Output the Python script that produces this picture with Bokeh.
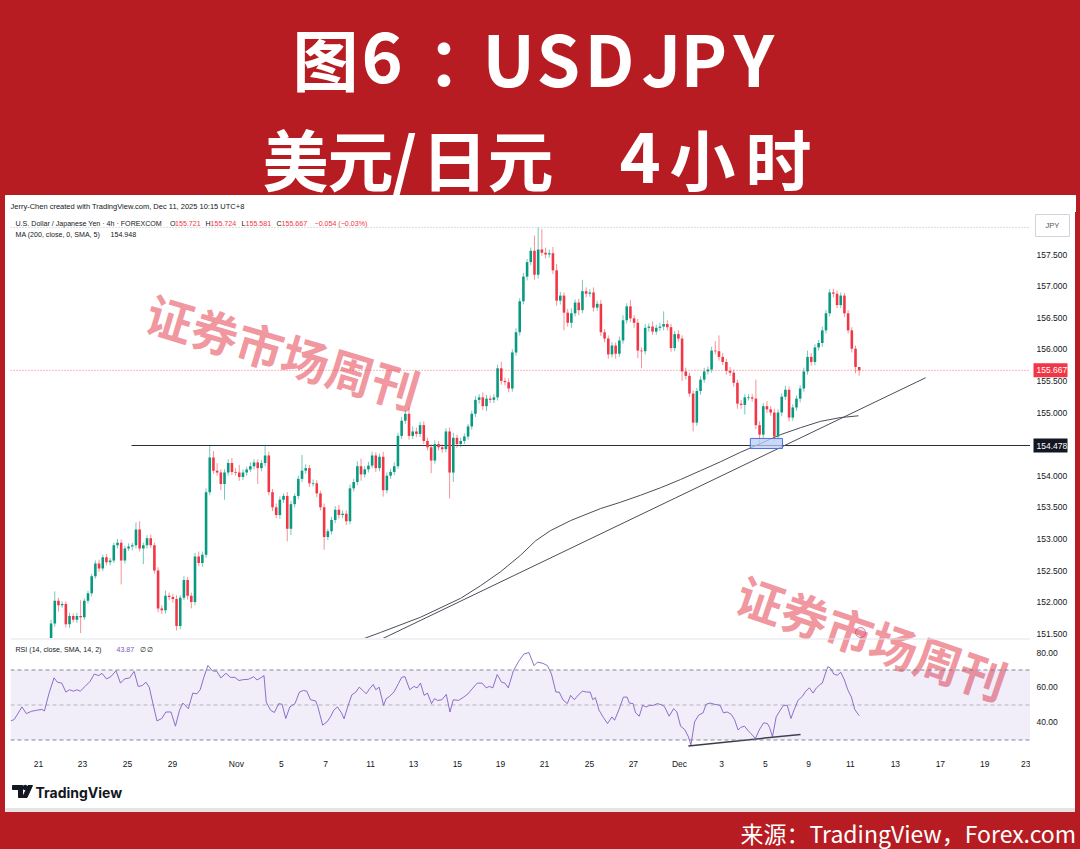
import numpy as np
from bokeh.plotting import figure
from bokeh.layouts import column, row
from bokeh.models import (Range1d, FixedTicker, Span, BoxAnnotation, ColumnDataSource)
from bokeh.core.properties import value
from bokeh.embed import file_html
from bokeh.resources import INLINE

# ---------------------------------------------------------------- data
# USDJPY 4h candles, bar index 11 .. 230 (open of each bar = previous close)
first_index = 11
first_open = 151.42
closes = [
    151.66, 152.02, 151.95, 151.97, 151.65, 151.78, 151.72, 151.78, 151.76, 152.02,
    152.14, 152.41, 152.61, 152.53, 152.71, 152.63, 152.66, 152.90, 152.94, 152.66,
    152.85, 152.88, 152.90, 153.15, 152.85, 152.90, 153.01, 152.90, 152.50, 151.90,
    151.87, 152.10, 152.08, 152.05, 151.62, 152.07, 152.35, 152.10, 152.00, 152.72,
    152.62, 152.75, 153.74, 154.29, 154.08, 154.05, 153.87, 154.05, 154.20, 154.06,
    154.05, 153.98, 154.05, 154.10, 154.15, 154.21, 154.12, 154.20, 154.32, 153.74,
    153.50, 153.38, 153.62, 153.68, 153.16, 153.55, 153.68, 153.95, 154.08, 154.12,
    153.88, 153.88, 153.72, 153.50, 153.03, 153.12, 153.30, 153.46, 153.38, 153.40,
    153.28, 153.80, 153.90, 154.15, 154.02, 154.10, 154.16, 154.32, 154.12, 154.30,
    153.77, 154.00, 154.06, 154.15, 154.63, 154.87, 154.98, 154.63, 154.70, 154.66,
    154.80, 154.55, 154.45, 154.24, 154.50, 154.45, 154.42, 154.70, 154.05, 154.60,
    154.50, 154.55, 154.62, 154.78, 154.98, 155.20, 155.24, 155.10, 155.22, 155.20,
    155.24, 155.70, 155.50, 155.48, 155.38, 155.95, 156.27, 156.76, 157.15, 157.38,
    157.56, 157.18, 157.58, 157.53, 157.50, 157.52, 157.25, 156.77, 156.85, 156.58,
    156.42, 156.57, 156.74, 156.62, 156.92, 156.88, 156.90, 156.66, 156.72, 156.27,
    156.17, 155.92, 156.06, 155.93, 156.14, 156.46, 156.68, 156.49, 156.42, 155.98,
    155.97, 156.34, 156.36, 156.28, 156.34, 156.36, 156.40, 156.35, 156.02, 156.24,
    156.17, 155.65, 155.58, 155.30, 154.84, 155.34, 155.52, 155.65, 155.68, 155.98,
    155.97, 155.88, 155.80, 155.66, 155.63, 155.47, 155.14, 155.12, 155.24, 155.24,
    155.22, 154.80, 154.65, 155.10, 155.05, 155.00, 154.62, 155.00, 155.25, 155.36,
    154.92, 155.08, 155.22, 155.38, 155.65, 155.88, 155.80, 156.03, 156.10, 156.30,
    156.57, 156.90, 156.88, 156.70, 156.85, 156.57, 156.30, 156.01, 155.721, 155.667,
]
upper_wicks = [
    0.06, 0.15, 0.05, 0.04, 0.04, 0.05, 0.04, 0.05, 0.25, 0.04,
    0.04, 0.04, 0.05, 0.06, 0.04, 0.05, 0.04, 0.04, 0.06, 0.05,
    0.04, 0.05, 0.04, 0.11, 0.13, 0.04, 0.05, 0.06, 0.04, 0.05,
    0.05, 0.08, 0.05, 0.05, 0.06, 0.04, 0.06, 0.05, 0.05, 0.06,
    0.08, 0.05, 0.06, 0.18, 0.10, 0.12, 0.05, 0.05, 0.06, 0.08,
    0.06, 0.12, 0.05, 0.04, 0.06, 0.05, 0.05, 0.05, 0.17, 0.06,
    0.05, 0.06, 0.05, 0.04, 0.06, 0.05, 0.04, 0.05, 0.25, 0.06,
    0.05, 0.06, 0.05, 0.04, 0.06, 0.04, 0.05, 0.06, 0.08, 0.05,
    0.05, 0.06, 0.05, 0.08, 0.12, 0.05, 0.06, 0.06, 0.05, 0.05,
    0.08, 0.05, 0.05, 0.06, 0.05, 0.06, 0.05, 0.10, 0.08, 0.06,
    0.05, 0.06, 0.05, 0.05, 0.06, 0.05, 0.05, 0.05, 0.06, 0.08,
    0.05, 0.05, 0.05, 0.04, 0.05, 0.06, 0.05, 0.08, 0.06, 0.05,
    0.05, 0.06, 0.10, 0.05, 0.06, 0.05, 0.06, 0.05, 0.06, 0.05,
    0.05, 0.24, 0.35, 0.32, 0.08, 0.06, 0.10, 0.10, 0.06, 0.05,
    0.06, 0.08, 0.05, 0.06, 0.18, 0.06, 0.05, 0.08, 0.05, 0.06,
    0.05, 0.05, 0.05, 0.05, 0.06, 0.08, 0.05, 0.10, 0.05, 0.06,
    0.05, 0.06, 0.05, 0.08, 0.05, 0.06, 0.20, 0.06, 0.05, 0.05,
    0.06, 0.05, 0.06, 0.05, 0.05, 0.05, 0.05, 0.06, 0.05, 0.06,
    0.15, 0.25, 0.06, 0.05, 0.06, 0.05, 0.05, 0.06, 0.05, 0.05,
    0.05, 0.30, 0.06, 0.05, 0.08, 0.05, 0.06, 0.05, 0.05, 0.06,
    0.05, 0.05, 0.05, 0.05, 0.06, 0.10, 0.06, 0.05, 0.05, 0.06,
    0.05, 0.05, 0.06, 0.05, 0.05, 0.04, 0.05, 0.05, 0.05, 0.003,
]
lower_wicks = [
    0.04, 0.05, 0.10, 0.04, 0.05, 0.06, 0.04, 0.05, 0.25, 0.04,
    0.04, 0.05, 0.04, 0.05, 0.04, 0.05, 0.05, 0.04, 0.05, 0.38,
    0.05, 0.04, 0.06, 0.05, 0.05, 0.25, 0.05, 0.04, 0.05, 0.06,
    0.06, 0.05, 0.05, 0.06, 0.07, 0.05, 0.04, 0.06, 0.10, 0.05,
    0.05, 0.06, 0.05, 0.05, 0.05, 0.05, 0.10, 0.25, 0.05, 0.05,
    0.05, 0.06, 0.05, 0.05, 0.04, 0.05, 0.25, 0.05, 0.05, 0.05,
    0.06, 0.05, 0.06, 0.05, 0.20, 0.10, 0.05, 0.05, 0.05, 0.05,
    0.06, 0.05, 0.06, 0.05, 0.20, 0.05, 0.05, 0.05, 0.06, 0.05,
    0.06, 0.05, 0.05, 0.05, 0.10, 0.05, 0.05, 0.04, 0.06, 0.05,
    0.10, 0.05, 0.05, 0.05, 0.04, 0.05, 0.05, 0.06, 0.05, 0.05,
    0.05, 0.05, 0.05, 0.20, 0.05, 0.05, 0.06, 0.05, 0.41, 0.15,
    0.06, 0.05, 0.05, 0.05, 0.05, 0.05, 0.06, 0.06, 0.08, 0.05,
    0.05, 0.05, 0.06, 0.05, 0.06, 0.05, 0.05, 0.05, 0.05, 0.06,
    0.05, 0.08, 0.06, 0.05, 0.06, 0.05, 0.06, 0.08, 0.06, 0.28,
    0.06, 0.08, 0.05, 0.08, 0.05, 0.06, 0.05, 0.06, 0.05, 0.06,
    0.06, 0.07, 0.05, 0.08, 0.05, 0.05, 0.05, 0.06, 0.08, 0.12,
    0.27, 0.05, 0.06, 0.05, 0.05, 0.05, 0.06, 0.05, 0.06, 0.05,
    0.05, 0.15, 0.06, 0.05, 0.14, 0.05, 0.06, 0.05, 0.05, 0.05,
    0.05, 0.06, 0.05, 0.06, 0.05, 0.06, 0.08, 0.06, 0.15, 0.05,
    0.05, 0.06, 0.15, 0.05, 0.06, 0.05, 0.07, 0.05, 0.06, 0.05,
    0.06, 0.05, 0.05, 0.06, 0.05, 0.05, 0.06, 0.05, 0.05, 0.06,
    0.05, 0.05, 0.06, 0.05, 0.05, 0.06, 0.05, 0.06, 0.10, 0.086,
]

# MA(200) curve, sampled along the bar axis
ma_pos = [94.3, 100.3, 111.1, 122.0, 127.4, 132.8, 138.2, 142.3, 146.3, 151.8,
          159.9, 165.3, 170.7, 176.2, 181.6, 187.0, 192.4, 197.8, 203.3, 208.7,
          214.1, 219.5, 224.9, 229.8]
ma_vals = [151.39, 151.52, 151.76, 152.06, 152.26, 152.48, 152.74, 152.97, 153.13, 153.29,
           153.48, 153.58, 153.69, 153.81, 153.94, 154.08, 154.22, 154.37, 154.51, 154.65,
           154.76, 154.86, 154.92, 154.948]

# RSI(14) line
rsi_pos = [0.1, 1.0, 2.0, 3.1, 4.3, 5.7, 7.1, 8.5, 9.2, 10.4,
           11.8, 12.7, 13.9, 15.0, 16.0, 17.1, 18.0, 18.9, 20.2, 21.6,
           22.7, 23.9, 24.8, 26.0, 27.2, 28.6, 29.8, 30.9, 32.3, 33.5,
           34.6, 35.7, 36.7, 37.6, 38.8, 39.7, 41.0, 42.1, 43.5, 44.7,
           45.8, 46.7, 48.2, 49.4, 50.5, 51.4, 52.4, 53.5, 54.7, 55.9,
           57.0, 58.4, 59.6, 60.8, 61.9, 63.1, 64.5, 65.9, 66.8, 67.8,
           68.7, 69.3, 70.5, 71.5, 72.7, 73.6, 74.6, 75.7, 77.1, 78.3,
           79.4, 80.3, 81.3, 82.7, 83.3, 84.6, 85.8, 86.7, 87.6, 88.6,
           89.7, 90.4, 91.5, 92.5, 93.6, 94.5, 95.5, 96.4, 97.3, 98.3,
           99.0, 99.9, 101.1, 101.8, 102.7, 103.9, 105.1, 106.0, 106.9, 108.2,
           109.3, 110.2, 111.1, 112.1, 113.0, 114.1, 114.9, 115.8, 116.9, 118.1,
           119.1, 120.0, 121.4, 122.8, 124.0, 125.1, 126.5, 127.8, 128.9, 129.8,
           130.7, 131.9, 133.1, 134.0, 134.9, 136.3, 137.7, 139.1, 140.5, 141.9,
           142.8, 144.3, 145.5, 146.6, 147.8, 148.7, 149.7, 150.9, 151.8, 152.8,
           154.0, 155.0, 156.1, 157.1, 157.8, 158.5, 159.5, 160.7, 161.8, 163.0,
           163.7, 164.9, 166.1, 167.1, 167.7, 168.7, 169.4, 170.4, 171.3, 172.3,
           173.2, 174.2, 175.3, 176.3, 177.2, 178.5, 179.7, 180.6, 181.6, 182.7,
           183.7, 184.4, 185.4, 186.5, 187.7, 188.5, 189.6, 190.8, 192.3, 193.2,
           194.2, 195.3, 196.2, 197.2, 197.9, 198.9, 199.9, 200.6, 201.9, 202.9,
           204.1, 205.1, 205.7, 206.5, 207.5, 208.6, 209.5, 210.5, 211.5, 212.4,
           213.4, 214.6, 215.5, 216.5, 217.5, 218.4, 219.4, 220.0, 220.8, 221.5,
           222.2, 223.1, 224.1, 225.0, 226.0, 226.9, 227.9, 228.8, 230.0]
rsi_vals = [40.9, 41.7, 45.1, 48.9, 45.1, 46.4, 47.0, 47.5, 46.6, 56.4,
            65.5, 63.0, 62.5, 57.4, 58.7, 57.9, 58.7, 57.9, 60.6, 63.6,
            67.7, 66.8, 68.1, 64.9, 66.2, 69.6, 62.5, 64.9, 65.5, 69.2,
            60.6, 61.1, 63.0, 60.2, 48.9, 40.9, 42.3, 46.0, 46.0, 37.9,
            47.0, 51.1, 47.9, 56.8, 56.4, 58.7, 65.8, 72.6, 69.6, 69.2,
            65.5, 68.1, 65.8, 65.8, 64.0, 64.5, 64.7, 66.2, 64.3, 65.5,
            66.8, 51.7, 47.0, 45.7, 50.8, 50.4, 42.3, 48.9, 50.8, 57.4,
            58.3, 57.9, 53.0, 52.3, 48.9, 38.5, 40.4, 43.2, 47.0, 48.9,
            45.5, 42.1, 49.8, 55.8, 57.4, 60.2, 58.3, 56.4, 59.2, 61.7,
            58.7, 60.2, 49.8, 53.6, 54.9, 57.4, 62.1, 65.8, 66.2, 58.7,
            60.6, 59.8, 62.5, 55.5, 56.8, 50.8, 53.6, 52.6, 53.0, 56.0,
            46.0, 53.0, 52.6, 54.5, 56.4, 59.2, 62.5, 62.5, 59.8, 60.6,
            59.8, 67.4, 63.0, 62.5, 59.8, 69.6, 74.9, 79.1, 80.0, 72.5,
            74.5, 73.8, 72.5, 67.7, 57.4, 57.4, 53.0, 50.8, 55.5, 53.0,
            56.0, 57.9, 57.4, 57.4, 53.0, 54.2, 47.0, 42.8, 39.4, 43.2,
            41.3, 47.4, 54.5, 54.5, 51.1, 50.8, 45.5, 43.6, 49.8, 48.9,
            49.8, 49.8, 50.8, 50.2, 49.2, 43.6, 47.9, 46.0, 37.9, 36.0,
            31.9, 27.2, 40.4, 44.2, 45.5, 50.4, 51.1, 50.4, 49.8, 45.5,
            46.0, 44.7, 41.7, 35.7, 37.2, 37.9, 35.3, 33.8, 30.9, 35.7,
            39.8, 39.4, 37.2, 31.9, 43.2, 47.0, 49.8, 49.8, 42.3, 47.4,
            52.6, 54.9, 57.9, 59.8, 56.8, 59.8, 61.7, 62.5, 67.7, 71.9,
            71.1, 67.7, 67.0, 68.7, 64.3, 58.7, 54.5, 47.4, 43.87]

# hand-drawn studies
support_level = 154.478
support_start = 32.8
trend_pos = [99.7, 248.0]
trend_vals = [151.39, 155.55]
rsi_trend_pos = [183.7, 214.1]
rsi_trend_vals = [26.6, 33.2]
zone_left, zone_right, zone_bottom, zone_top = 200.5, 209.2, 154.43, 154.59
session_high = 157.93
last_price = 155.667
ma_last = 154.948
rsi_last = 43.87

# axes
price_ticks = [151.5, 152.0, 152.5, 153.0, 153.5, 154.0, 154.5, 155.0, 155.5, 156.0,
               156.5, 157.0, 157.5]
rsi_ticks = [40, 60, 80]
date_pos = [7.6, 19.5, 31.7, 43.9, 61.2, 73.4, 85.4, 97.6, 109.2, 121.1, 132.8, 144.7,
            156.9, 168.8, 181.3, 192.7, 204.6, 216.3, 227.6, 239.8, 252.0, 264.0, 275.9]
date_labels = ["21", "23", "25", "29", "Nov", "5", "7", "11", "13", "15", "19", "21",
               "25", "27", "Dec", "3", "5", "9", "11", "13", "17", "19", "23"]

# ---------------------------------------------------------------- style
BANNER_RED = "#b71c22"
UP_COLOR = "#089981"
DOWN_COLOR = "#F23645"
TEXT_DARK = "#131722"
RSI_COLOR = "#7E57C2"
WM_COLOR = "#E2303F"
CJK = "Noto Sans CJK SC"
LATIN = "Liberation Sans"

# chart geometry (pixels): price pane 212..638, RSI pane 639..748
BAR_PX = 3.69
X_END = 1020 / BAR_PX
P_LO, P_HI = 151.424, 158.165          # price shown at the price pane's bottom / top
PANE_TOP, PANE_H = 212, 426
CHART_H = 536                          # both panes together
P_PX = (P_HI - P_LO) / PANE_H          # price per pixel
R_LO, R_HI = 25.14, 87.43              # RSI shown at the RSI pane's bottom / top
RSI_TOP, RSI_H = 639, 109
R_PX = (R_HI - R_LO) / RSI_H
Y_BOTTOM = P_HI - CHART_H * P_PX
R_TOP = R_HI + (RSI_TOP - PANE_TOP) * R_PX


def bar_at(px):
    return (px - 10) / BAR_PX


def price_at(py):
    return P_HI - (py - PANE_TOP) * P_PX


def rsi_at(py):
    return R_HI - (py - RSI_TOP) * R_PX


def make_fig(width, height, x_range, y_range, bg="white", margin=(0, 5, 0, 5), **kw):
    opts = dict(min_border=0, x_axis_location=None, y_axis_location=None)
    opts.update(kw)
    fig = figure(width=width, height=height, x_range=x_range, y_range=y_range,
                 output_backend="svg", toolbar_location=None, margin=margin,
                 background_fill_color=bg, border_fill_color=bg, outline_line_color=None,
                 styles={"background-color": bg}, **opts)
    fig.grid.visible = False
    return fig


def put_text(fig, x, y, s, color=TEXT_DARK, size="7.5px", font=LATIN, style="normal",
             align="left", baseline="middle", angle=0.0, alpha=1.0, **kw):
    fig.text(x=[x], y=[y], text=[s], text_color=color, text_font_size=size,
             text_font=value(font), text_font_style=style, text_align=align,
             text_baseline=baseline, angle=angle, text_alpha=alpha, **kw)


# ---------------------------------------------------------------- candles
c = np.array(closes)
o = np.array([first_open] + closes[:-1])
bars = np.arange(first_index, first_index + len(c))
body_hi = np.maximum(o, c)
body_lo = np.minimum(o, c)
highs = body_hi + np.array(upper_wicks)
lows = body_lo - np.array(lower_wicks)
colors = np.where(c >= o, UP_COLOR, DOWN_COLOR)
src = ColumnDataSource(dict(x=bars, top=body_hi, bottom=np.minimum(body_lo, body_hi - 0.012),
                            high=highs, low=lows, color=colors))

# ---------------------------------------------------------------- banner + credit line
banner = make_fig(1080, 212, (0, 1080), (212, 0), bg=BANNER_RED, margin=(0, 0, 0, 0))
banner.quad(left=[5], right=[1075], top=[195], bottom=[212], color="white")
line1 = [("图", 292, "66px"), ("6", 361, "70px"), ("：", 427, "66px"),
         ("U", 482, "70px"), ("S", 536, "70px"), ("D", 584, "70px"),
         ("J", 641, "70px"), ("P", 680, "70px"), ("Y", 733, "70px")]
line2 = [("美", 262, "66px"), ("元", 327, "66px"), ("/", 391, "66px"),
         ("日", 421, "66px"), ("元", 487, "66px"), ("4", 619, "70px"),
         ("小", 669, "66px"), ("时", 745, "66px")]
for ch, x, s in line1:
    put_text(banner, x, 56, ch, color="white", size=s, font=CJK, style="bold")
for ch, x, s in line2:
    put_text(banner, x, 156, ch, color="white", size=s, font=CJK, style="bold")
put_text(banner, 10, 205.5, "Jerry-Chen created with TradingView.com, Dec 11, 2025 10:15 UTC+8")

# ---------------------------------------------------------------- chart (price + RSI panes)
xr = Range1d(0, X_END)
yr = Range1d(Y_BOTTOM, P_HI)
cf = make_fig(1025, 564, xr, yr, margin=(0, 0, 0, 5), x_axis_location="below",
              min_border_left=5, min_border_bottom=28)
cf.extra_y_ranges = {"rsi": Range1d(R_LO, R_TOP)}

# price pane
cf.add_layout(Span(location=session_high, dimension="width", line_color="#B2B5BE",
                   line_dash="1 2", line_width=1))
cf.add_layout(Span(location=last_price, dimension="width", line_color=DOWN_COLOR,
                   line_alpha=0.7, line_dash="1 2", line_width=1))
cf.segment(x0=[support_start], x1=[X_END], y0=[support_level], y1=[support_level],
           line_color="#2a2e39", line_width=1)
cf.line(ma_pos, ma_vals, line_color="#4a4e59", line_width=1)
cf.line(trend_pos, trend_vals, line_color="#4a4e59", line_width=1)
cf.segment(x0="x", x1="x", y0="low", y1="high", source=src, line_color="color",
           line_alpha=0.55, line_width=1)
cf.vbar(x="x", width=0.7, top="top", bottom="bottom", source=src, fill_color="color",
        line_color=None)
cf.quad(left=[zone_left], right=[zone_right], bottom=[zone_bottom], top=[zone_top],
        fill_color="#B9CCF5", fill_alpha=0.75, line_color="#4A72D6", line_width=1)
cf.scatter(x=[bar_at(860)], y=[price_at(632)], size=10, marker="circle",
           fill_color="#F6E3F0", line_color="#C05AA0", line_alpha=0.7)

ly1 = price_at(223)
put_text(cf, bar_at(15), ly1, "U.S. Dollar / Japanese Yen · 4h · FOREXCOM", size="7.1px")
for letter, lx, val, vx in [("O", 169.5, "155.721", 174.5), ("H", 205, "155.724", 210),
                            ("L", 241, "155.581", 245), ("C", 276, "155.667", 281)]:
    put_text(cf, bar_at(lx), ly1, letter, size="7.1px")
    put_text(cf, bar_at(vx), ly1, val, color=DOWN_COLOR, size="7.1px")
put_text(cf, bar_at(314), ly1, "−0.054 (−0.03%)", color=DOWN_COLOR, size="7.1px")
put_text(cf, bar_at(15), price_at(234), "MA (200, close, 0, SMA, 5)", size="7.1px")
put_text(cf, bar_at(110), price_at(234), f"{ma_last:.3f}", size="7.1px")

# RSI pane: blank out anything of the price pane that reaches below its edge
cf.quad(left=[0], right=[X_END], top=[P_LO], bottom=[Y_BOTTOM], color="white")
cf.add_layout(Span(location=P_LO - 0.5 * P_PX, dimension="width", line_color="#E0E3EB",
                   line_width=1))
cf.add_layout(BoxAnnotation(bottom=30, top=70, fill_color=RSI_COLOR, fill_alpha=0.1,
                            line_color=None, y_range_name="rsi"))
for lvl, alpha in [(70, 0.9), (50, 0.5), (30, 0.9)]:
    cf.add_layout(Span(location=lvl, dimension="width", line_color="#787B86",
                       line_alpha=alpha, line_dash="4 3", line_width=1, y_range_name="rsi"))
cf.line(rsi_pos, rsi_vals, line_color=RSI_COLOR, line_alpha=0.85, line_width=1,
        y_range_name="rsi")
cf.line(rsi_trend_pos, rsi_trend_vals, line_color="#3a3d48", line_width=1.5,
        y_range_name="rsi")
ly = rsi_at(649)
put_text(cf, bar_at(15), ly, "RSI (14, close, SMA, 14, 2)", size="7.1px", y_range_name="rsi")
put_text(cf, bar_at(116), ly, f"{rsi_last:.2f}", color=RSI_COLOR, size="7.1px",
         y_range_name="rsi")
put_text(cf, bar_at(139), ly, "∅  ∅", size="7.1px", y_range_name="rsi")

# watermarks
WM = "证券市场周刊"
put_text(cf, bar_at(283), price_at(350), WM, color=WM_COLOR, size="47px", font=CJK,
         style="bold", align="center", angle=-0.29, alpha=0.5)
put_text(cf, bar_at(872), price_at(636), WM, color=WM_COLOR, size="47px", font=CJK,
         style="bold", align="center", angle=-0.33, alpha=0.5)

# time axis
tx = cf.xaxis[0]
tx.ticker = FixedTicker(ticks=date_pos)
tx.major_label_overrides = {p: s for p, s in zip(date_pos, date_labels)}
tx.major_tick_out = 0
tx.major_tick_in = 0
tx.minor_tick_out = 0
tx.minor_tick_in = 0
tx.axis_line_color = None
tx.major_label_text_font = LATIN
tx.major_label_text_font_size = "8.5px"
tx.major_label_text_color = TEXT_DARK
tx.major_label_standoff = 10

# ---------------------------------------------------------------- scale column
sc = make_fig(45, 564, (1030, 1075), yr, margin=(0, 5, 0, 0), min_border_bottom=28)
sc.extra_y_ranges = {"rsi": Range1d(R_LO, R_TOP)}
sc.text(x=[1036] * len(price_ticks), y=price_ticks, text=[f"{t:.3f}" for t in price_ticks],
        text_color=TEXT_DARK, text_font_size="8.5px", text_font=value(LATIN),
        text_align="left", text_baseline="middle")
sc.text(x=[1036] * len(rsi_ticks), y=rsi_ticks, text=[f"{t:.2f}" for t in rsi_ticks],
        text_color=TEXT_DARK, text_font_size="8.5px", text_font=value(LATIN),
        text_align="left", text_baseline="middle", y_range_name="rsi")
sc.rect(x=[1052], y=[price_at(225)], width=[34], height=[22], height_units="screen",
        fill_color="white", line_color="#D1D4DC", line_width=1)
put_text(sc, 1045, price_at(225), "JPY", color="#50535E", size="7.5px")
for level, fill in [(last_price, DOWN_COLOR), (support_level, "#131722")]:
    sc.rect(x=[1050], y=[level], width=[34], height=[14], height_units="screen",
            fill_color=fill, line_color=None)
    put_text(sc, 1036, level, f"{level:.3f}", color="white", size="8.5px")

# ---------------------------------------------------------------- logo strip
logo = make_fig(1070, 36, (5, 1075), (812, 776))
logo.patch([12, 22, 22, 18, 18, 12], [785, 785, 797, 797, 789, 789], color=TEXT_DARK)
logo.scatter(x=[24.6], y=[787], size=4.5, marker="circle", color=TEXT_DARK)
logo.patch([27.5, 32, 26.5, 22], [785, 785, 797, 797], color=TEXT_DARK)
put_text(logo, 35, 791.5, "TradingView", size="14px", font="Inter", style="bold")
logo.quad(left=[5], right=[1075], bottom=[812], top=[808], color="#E4E4E4")

# ---------------------------------------------------------------- footer
footer = make_fig(1080, 37, (0, 1080), (849, 812), bg=BANNER_RED, margin=(0, 0, 0, 0))
put_text(footer, 740, 832, "来源：TradingView，Forex.com", color="white", size="23px", font=CJK)

page = column(banner, row(cf, sc, spacing=0), logo, footer,
              spacing=0, styles={"background-color": BANNER_RED})

open("out.html", "w").write(file_html(page, INLINE))
